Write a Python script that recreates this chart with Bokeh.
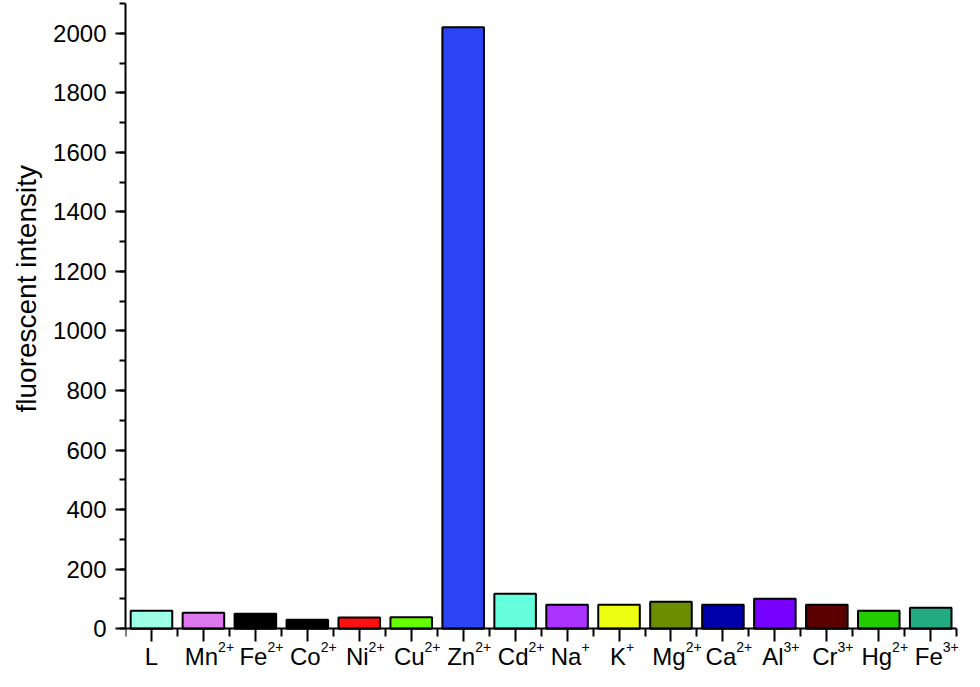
from bokeh.plotting import figure
from bokeh.models import FixedTicker, Range1d, ColumnDataSource, Title
from bokeh.core.properties import value
from bokeh.embed import file_html
from bokeh.resources import INLINE

ion_base = ["L", "Mn", "Fe", "Co", "Ni", "Cu", "Zn", "Cd", "Na", "K",
            "Mg", "Ca", "Al", "Cr", "Hg", "Fe"]
ion_charge = ["", "2+", "2+", "2+", "2+", "2+", "2+", "2+", "+", "+",
              "2+", "2+", "3+", "3+", "2+", "3+"]
intensity = [60, 53, 50, 30, 37, 38, 2020, 117, 80, 80, 90, 80, 100, 80, 60, 70]
colors = ["#9ffee6", "#dd77ee", "#000000", "#000000", "#ff1111", "#66ff00", "#2b44f5",
          "#66ffdd", "#aa33ff", "#eeff11", "#6b8e00", "#0000aa", "#7700ff", "#5a0000",
          "#22cc00", "#22aa80"]
y_ticks = list(range(0, 2001, 200))
y_minor = list(range(0, 2101, 100))
y_title = "fluorescent intensity"

FONT = "Liberation Sans"
BASE_PX = 24
SUP_PX = 14
# Arial / Liberation Sans advance widths (per em) for centring the rich tick labels
ADV = {"L": .556, "M": .833, "n": .556, "F": .611, "e": .556, "C": .722, "o": .556,
       "N": .722, "i": .222, "u": .556, "Z": .611, "d": .556, "a": .556, "K": .667,
       "g": .556, "A": .667, "l": .222, "r": .333, "H": .722, "2": .556, "3": .556,
       "+": .584}


def text_width(s, px):
    return sum(ADV.get(c, .556) for c in s) * px


xs = list(range(1, len(ion_base) + 1))
src = ColumnDataSource(dict(x=xs, top=intensity, color=colors))

# the frame runs below zero (and a little past the last category) so that the
# rich tick labels can be drawn under the axis
Y_LOW = -144
BASE_Y = -94
SUP_Y = -62
X_HIGH = len(xs) + 0.65

p = figure(width=964, height=671, output_backend="svg", toolbar_location=None,
           x_range=Range1d(0.5, X_HIGH), y_range=Range1d(Y_LOW, 2100),
           min_border_left=121, min_border_right=0, min_border_top=3, min_border_bottom=0)
p.outline_line_color = None
p.xgrid.visible = False
p.ygrid.visible = False

p.vbar(x="x", top="top", bottom=0, width=0.8, fill_color="color", line_color="black",
       line_width=2, source=src)

# x axis drawn at y = 0
xa = p.xaxis[0]
xa.fixed_location = 0
xa.bounds = (0.5, len(xs) + 0.5)
xa.ticker = FixedTicker(ticks=xs, minor_ticks=[i + 0.5 for i in range(0, len(xs) + 1)])
xa.major_label_overrides = {i: "" for i in xs}
xa.axis_line_width = 2
xa.major_tick_line_width = 2
xa.minor_tick_line_width = 2
xa.major_tick_out = 13
xa.major_tick_in = 0
xa.minor_tick_out = 8
xa.minor_tick_in = 0

wb = [text_width(b, BASE_PX) for b in ion_base]
ws = [text_width(s, SUP_PX) for s in ion_charge]
start = [-(b + 0.25 * s) / 2 for b, s in zip(wb, ws)]
lab = ColumnDataSource(dict(x=xs, base=ion_base, sup=ion_charge, xoff=start,
                            soff=[st + b for st, b in zip(start, wb)]))
p.text(x="x", y=BASE_Y, text="base", x_offset="xoff", source=lab,
       text_font=value(FONT), text_font_size=f"{BASE_PX}px", text_color="black",
       text_align="left", text_baseline="alphabetic")
p.text(x="x", y=SUP_Y, text="sup", x_offset="soff", source=lab,
       text_font=value(FONT), text_font_size=f"{SUP_PX}px", text_color="black",
       text_align="left", text_baseline="alphabetic")

ya = p.yaxis[0]
ya.bounds = (0, 2100)
ya.ticker = FixedTicker(ticks=y_ticks, minor_ticks=y_minor)
ya.axis_line_width = 2
ya.major_tick_line_width = 2
ya.minor_tick_line_width = 2
ya.major_tick_out = 10
ya.major_tick_in = 0
ya.minor_tick_out = 6
ya.minor_tick_in = 0
ya.major_label_text_font = FONT
ya.major_label_text_font_size = "24px"
ya.major_label_text_color = "black"
ya.major_label_standoff = 9

p.add_layout(Title(text=y_title, align="left", offset=259, text_font=FONT,
                   text_font_size="28px", text_font_style="normal", text_color="black",
                   standoff=17), "left")

open("out.html", "w").write(file_html(p, INLINE))
